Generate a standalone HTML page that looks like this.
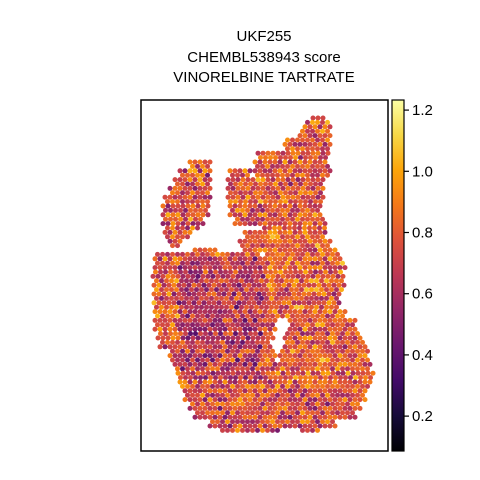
<!DOCTYPE html>
<html><head><meta charset="utf-8">
<style>
html,body{margin:0;padding:0;background:#fff;}
svg{display:block;font-family:"Liberation Sans",sans-serif;}
</style></head>
<body>
<svg id="c" width="480" height="480" viewBox="0 0 480 480">
  <defs>
    <linearGradient id="inferno" x1="0" y1="1" x2="0" y2="0">
      <stop offset="0" stop-color="#000004"/>
      <stop offset="0.1" stop-color="#160b39"/>
      <stop offset="0.2" stop-color="#420a68"/>
      <stop offset="0.3" stop-color="#6a176e"/>
      <stop offset="0.4" stop-color="#932667"/>
      <stop offset="0.5" stop-color="#bc3754"/>
      <stop offset="0.6" stop-color="#dd513a"/>
      <stop offset="0.7" stop-color="#f37819"/>
      <stop offset="0.8" stop-color="#fca50a"/>
      <stop offset="0.9" stop-color="#f6d746"/>
      <stop offset="1" stop-color="#fcffa4"/>
    </linearGradient>
  </defs>
  <g font-size="15" text-anchor="middle" fill="#000">
    <text x="264" y="41">UKF255</text>
    <text x="264" y="62">CHEMBL538943 score</text>
    <text x="264" y="82">VINORELBINE TARTRATE</text>
  </g>
  <g id="spots"></g>
  <rect x="141" y="100" width="247" height="351" fill="none" stroke="#000" stroke-width="1.5"/>
  <rect x="392" y="100" width="12" height="351" fill="url(#inferno)" stroke="#000" stroke-width="1.2"/>
  <g id="cbticks" font-size="15" fill="#000"></g>
</svg>
<script>
const vmin = 0.086, vmax = 1.233;
const tickValues = [0.2, 0.4, 0.6, 0.8, 1.0, 1.2];
const tickLabels = ["0.2", "0.4", "0.6", "0.8", "1.0", "1.2"];
// tissue outline rows: [y, x0, x1, ...]
const rowY = [118,125,135,145,155,165,172,180,190,200,210,220,228,235,242,250,258,265,275,285,295,305,315,325,335,345,355,365,375,385,395,405,415,425,432];
const rowSegs = [
 [[313,325]],[[305,330]],[[300,330]],[[285,330]],[[258,328]],
 [[190,210],[255,328]],[[180,212],[230,250],[255,330]],[[175,212],[228,325]],
 [[170,210],[228,325]],[[165,210],[228,325]],[[163,208],[230,322]],
 [[163,205],[235,325]],[[165,200],[262,325]],[[165,190],[245,325]],
 [[170,180],[240,330]],[[195,215],[245,335]],[[155,262],[265,340]],
 [[155,345]],[[153,345]],[[154,345]],[[154,340]],[[154,340]],[[155,345]],
 [[155,275],[290,355]],[[158,275],[285,360]],[[160,270],[285,365]],
 [[170,275],[280,368]],[[175,370]],[[178,375]],[[180,370]],[[185,365]],
 [[190,360]],[[195,355]],[[210,335]],[[220,280],[300,320]]
];
// regional mean scores
const regionNames = ["leftLobe","upperRight","midLeft","rightBody","bottom","leftEdge"];
const regionMeans = [0.76, 0.78, 0.64, 0.80, 0.74, 0.78];
const stops = [[0,0,0,4],[0.1,22,11,57],[0.2,66,10,104],[0.3,106,23,110],[0.4,147,38,103],[0.5,188,55,84],[0.6,221,81,58],[0.7,243,120,25],[0.8,252,165,10],[0.9,246,215,70],[1,252,255,164]];
function color(v){
  let t=Math.max(0,Math.min(1,(v-vmin)/(vmax-vmin)));
  for(let i=1;i<stops.length;i++){ if(t<=stops[i][0]){ const a=stops[i-1],b=stops[i],f=(t-a[0])/(b[0]-a[0]);
    return `rgb(${Math.round(a[1]+f*(b[1]-a[1]))},${Math.round(a[2]+f*(b[2]-a[2]))},${Math.round(a[3]+f*(b[3]-a[3]))})`; } }
  return "rgb(252,255,164)";
}
function yScale(v){ return 451 - (v-vmin)/(vmax-vmin)*351; }
function region(x,y){
  if(y<250 && x<215) return 0;
  if(y<258) return 1;
  if(x<172 && y<340) return 5;
  if(y>390) return 4;
  if(x<265 && x>178 && y<380) return 2;
  if(x<178) return 5;
  return 3;
}
function texture(a,b){ let h=(a*374761393 + b*668265263)|0; h=(h^(h>>>13))*1274126177|0; h=h^(h>>>16); return ((h>>>0)%10000)/10000; }
const g=document.getElementById('spots');
const ns="http://www.w3.org/2000/svg";
let row=0;
for(let y=118;y<=432;y+=4.4,row++){
  let k=0; for(let i=0;i<rowY.length;i++){ if(Math.abs(rowY[i]-y)<Math.abs(rowY[k]-y)) k=i; }
  const off=(row%2)*2.5;
  rowSegs[k].forEach(s=>{
    for(let x=s[0]+off;x<=s[1];x+=5){
      const r=region(x,y);
      const n=(texture(row,Math.round(x))+texture(Math.round(x)+7,row*3))/2;
      const v=regionMeans[r]+(n-0.5)*0.6;
      const c=document.createElementNS(ns,'circle');
      c.setAttribute('cx',x.toFixed(1)); c.setAttribute('cy',y.toFixed(1)); c.setAttribute('r','2.5');
      c.setAttribute('fill',color(v));
      
      
      g.appendChild(c);
    }
  });
}
const tg=document.getElementById('cbticks');
tickValues.forEach((v,i)=>{
  const y=yScale(v);
  const l=document.createElementNS(ns,'line');
  l.setAttribute('x1','404'); l.setAttribute('x2','409'); l.setAttribute('y1',y); l.setAttribute('y2',y);
  l.setAttribute('stroke','#000'); l.setAttribute('stroke-width','1.2');
  
  
  tg.appendChild(l);
  const t=document.createElementNS(ns,'text');
  t.setAttribute('x','412'); t.setAttribute('y',(y+5).toFixed(1)); t.textContent=tickLabels[i];
  
  
  tg.appendChild(t);
});
</script>
</body></html>
